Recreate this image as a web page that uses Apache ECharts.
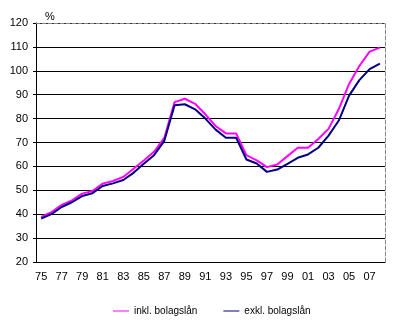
<!DOCTYPE html>
<html>
<head>
<meta charset="utf-8">
<script src="https://cdn.jsdelivr.net/npm/echarts@6/dist/echarts.min.js"></script>
<style>
  html, body { margin: 0; padding: 0; background: #fff; }
  #chart { width: 400px; height: 332px; }
</style>
</head>
<body>
<div id="chart"></div>
<script>
const years = ['75','76','77','78','79','80','81','82','83','84','85','86','87','88','89','90','91',
  '92','93','94','95','96','97','98','99','00','01','02','03','04','05','06','07','08']

const inkl = [38.9, 40.8, 43.9, 45.8, 48.6, 49.7, 52.8, 53.9, 55.6, 59.0, 62.5, 66.1, 71.9, 86.9, 88.3, 86.2, 81.8,
  76.9, 73.8, 73.8, 64.7, 62.5, 59.7, 60.8, 64.3, 67.8, 67.8, 71.5, 75.7, 84.0, 94.5, 102.0, 108.0, 109.7]

const exkl = [38.2, 40.0, 43.0, 45.0, 47.6, 48.8, 51.8, 52.9, 54.3, 57.3, 61.1, 64.7, 70.7, 85.6, 86.0, 83.9, 80.0,
  75.4, 72.0, 72.0, 62.9, 61.2, 57.7, 58.7, 61.1, 63.6, 65.0, 67.8, 72.9, 79.2, 89.6, 96.1, 100.7, 103.0]

const seriesNames = ['inkl. bolagslån', 'exkl. bolagslån']

const font = 'Liberation Sans, Arial, sans-serif'
const chart = echarts.init(document.getElementById('chart'))

chart.setOption({
  animation: false,
  title: {
    text: '%',
    left: 40,
    top: 6,
    textStyle: { fontFamily: font, fontSize: 11, fontWeight: 'normal', color: '#000' }
  },
  legend: {
    data: seriesNames,
    bottom: 11,
    left: 108,
    icon: 'rect',
    itemWidth: 16,
    itemHeight: 1,
    itemGap: 26,
    textStyle: { fontFamily: font, fontSize: 10, color: '#000' }
  },
  grid: { left: 36, right: 15, top: 23, bottom: 70 },
  xAxis: [
    {
      type: 'category',
      data: years,
      boundaryGap: true,
      axisLine: { lineStyle: { color: '#000', width: 1 } },
      axisTick: { alignWithLabel: false, interval: 0, length: 5, lineStyle: { color: '#000' } },
      axisLabel: { interval: 1, margin: 9, fontFamily: font, fontSize: 11, color: '#000' },
      splitLine: { show: false }
    },
    {
      type: 'category',
      position: 'top',
      data: years,
      axisLine: { lineStyle: { color: '#888', type: 'dashed' } },
      axisTick: { show: false },
      axisLabel: { show: false }
    }
  ],
  yAxis: [
    {
      type: 'value',
      min: 20,
      max: 120,
      interval: 10,
      axisLine: { show: true, lineStyle: { color: '#000', width: 1 } },
      axisTick: { show: true, length: 3, lineStyle: { color: '#000' } },
      axisLabel: { margin: 8, fontFamily: font, fontSize: 11, color: '#000' },
      splitLine: { lineStyle: { color: '#000', width: 1 } }
    },
    {
      type: 'value',
      position: 'right',
      min: 20,
      max: 120,
      interval: 10,
      axisLine: { show: true, lineStyle: { color: '#888', type: 'dashed' } },
      axisTick: { show: false },
      axisLabel: { show: false },
      splitLine: { show: false }
    }
  ],
  series: [
    {
      name: seriesNames[0],
      type: 'line',
      data: inkl,
      symbol: 'none',
      color: '#ff00ff',
      lineStyle: { color: '#ff00ff', width: 2 }
    },
    {
      name: seriesNames[1],
      type: 'line',
      data: exkl,
      symbol: 'none',
      color: '#000080',
      lineStyle: { color: '#000080', width: 2 }
    }
  ]
})
</script>
</body>
</html>
